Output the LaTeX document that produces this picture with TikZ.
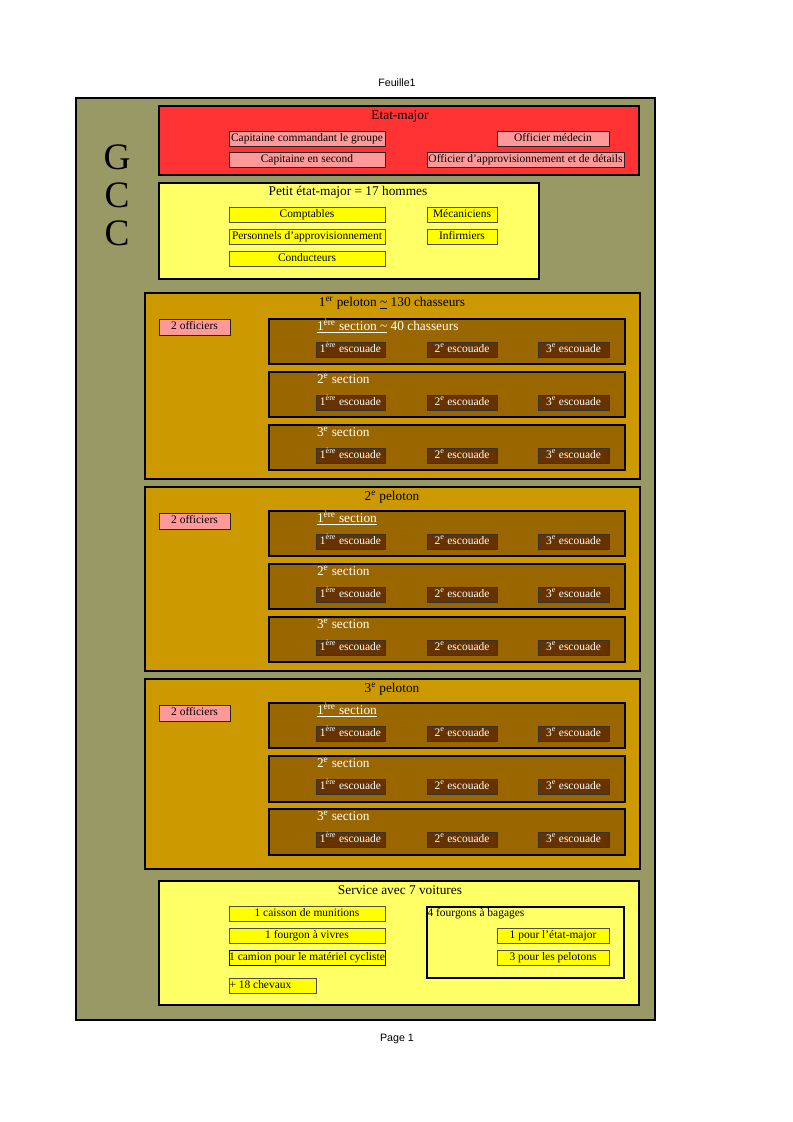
\documentclass[tikz,border=0pt]{standalone}
\usepackage{fontspec}
\setmainfont{Liberation Serif}
\newfontfamily\sansf{Liberation Sans}
\usetikzlibrary{fit}
\definecolor{olivebg}{HTML}{999966}
\definecolor{redbg}{HTML}{FF3333}
\definecolor{pinkbox}{HTML}{FF9999}
\definecolor{lightyel}{HTML}{FFFF66}
\definecolor{yelbox}{HTML}{FFFF00}
\definecolor{pelbg}{HTML}{CC9900}
\definecolor{secbg}{HTML}{996600}
\definecolor{escbg}{HTML}{663300}
\tikzset{
 every node/.style={inner sep=0pt, outer sep=0pt},
 sml/.style={font=\fontsize{8.6}{10}\selectfont, text height=6pt, text depth=1.8pt},
 ttl/.style={font=\fontsize{10}{12}\selectfont, text height=7pt, text depth=2pt},
 bigb/.style={draw=black, line width=1.3pt},
 pinkb/.style={draw=black!85, line width=0.7pt, fill=pinkbox, sml, text=black},
 yelb/.style={draw=black!70, line width=0.7pt, fill=yelbox, sml, text=black},
 escb/.style={draw=black!80, line width=0.7pt, fill=escbg, sml, text=white},
 secb/.style={draw=black, line width=0.9pt, fill=secbg},
 pelb/.style={draw=black, line width=1.3pt, fill=pelbg},
 gcc/.style={font=\fontsize{28}{30}\selectfont},
 pagetxt/.style={font=\sansf\fontsize{8}{9}\selectfont},
}
% box with centred text: {style}{name}{x1}{y1}{x2}{y2}{text}
\newcommand\mybx[7]{\node[#1, minimum width={((#5)-(#3))*0.75pt},
  minimum height={((#6)-(#4))*0.75pt}] (#2) at ({((#3)+(#5))/2},{((#4)+(#6))/2}) {#7};}
\begin{document}
\begin{tikzpicture}[x=0.75pt,y=-0.75pt]
\useasboundingbox[fill=white] (0,0) rectangle (793,1122);
\node[pagetxt] (feuille) at (397,83) {Feuille1};
\node[pagetxt] (page) at (397,1039) {Page 1};
\node[draw=black, line width=1.6pt, fill=olivebg, fit={(76,98)(655,1020)}] (outer) {};
% GCC
\node[gcc] (g1) at (117,157) {G};
\node[gcc] (c1) at (117,195) {C};
\node[gcc] (c2) at (117,233) {C};
% Etat-major
\node[bigb, fill=redbg, fit={(159,106)(639,175)}] (em) {};
\node[ttl] (emt) at (400,116) {Etat-major};
\mybx{pinkb}{cap1}{229}{131}{385}{146}{Capitaine commandant le groupe}
\mybx{pinkb}{med}{497}{131}{609}{146}{Officier médecin}
\mybx{pinkb}{cap2}{229}{152}{385}{167}{Capitaine en second}
\mybx{pinkb}{appro}{427}{152}{624}{167}{Officier d’approvisionnement et de détails}
% Petit etat-major
\node[bigb, fill=lightyel, fit={(159,183)(539,279)}] (pem) {};
\node[ttl] (pemt) at (348,192) {Petit état-major = 17 hommes};
\mybx{yelb}{compt}{229}{207}{385}{222}{Comptables}
\mybx{yelb}{meca}{427}{207}{497}{222}{Mécaniciens}
\mybx{yelb}{pers}{229}{229}{385}{244}{Personnels d’approvisionnement}
\mybx{yelb}{infi}{427}{229}{497}{244}{Infirmiers}
\mybx{yelb}{cond}{229}{251}{385}{266}{Conducteurs}
% Pelotons
\foreach \p/\top/\bot/\txt in {
  1/293/479/{1\textsuperscript{er} peloton \underline{\textasciitilde} 130 chasseurs},
  2/487/671/{2\textsuperscript{e} peloton},
  3/679/869/{3\textsuperscript{e} peloton}}{
  \node[pelb, fit={(145,\top)(640,\bot)}] (pel\p) {};
  \node[ttl] (pel\p t) at (392,\top+10) {\txt};
  \mybx{pinkb}{pel\p o}{159}{\top+26}{230}{\top+42}{2 officiers}
}
% Sections
\foreach \p/\s/\st/\h in {1/1/319/45,1/2/372/45,1/3/425/45,
                          2/1/511/45,2/2/564/45,2/3/617/45,
                          3/1/703/45,3/2/756/46,3/3/809/46}{
  \node[secb, fit={(269,\st)(625,\st+\h)}] (pel\p s\s) {};
  \ifnum\s=1
    \ifnum\p=1
      \node[ttl, text=white, anchor=west] (pel\p s\s t) at (317,\st+8)
        {\underline{1\textsuperscript{ère} section \textasciitilde} 40 chasseurs};
    \else
      \node[ttl, text=white, anchor=west] (pel\p s\s t) at (317,\st+8)
        {\underline{1\textsuperscript{ère} section}};
    \fi
  \else
    \node[ttl, text=white, anchor=west] (pel\p s\s t) at (317,\st+8)
      {\s\textsuperscript{e} section};
  \fi
  \mybx{escb}{pel\p s\s e1}{316}{\st+23}{385}{\st+38}{1\textsuperscript{ère} escouade}
  \mybx{escb}{pel\p s\s e2}{427}{\st+23}{497}{\st+38}{2\textsuperscript{e} escouade}
  \mybx{escb}{pel\p s\s e3}{538}{\st+23}{609}{\st+38}{3\textsuperscript{e} escouade}
}
% Service
\node[bigb, fill=lightyel, fit={(159,881)(639,1005)}] (serv) {};
\node[ttl] (servt) at (400,891) {Service avec 7 voitures};
\mybx{yelb}{caisson}{229}{906}{385}{921}{1 caisson de munitions}
\mybx{yelb}{vivres}{229}{928}{385}{943}{1 fourgon à vivres}
\mybx{yelb, draw=black}{camion}{229}{950}{385}{965}{1 camion pour le matériel cycliste}
\mybx{yelb}{chev}{229}{978}{316}{993}{}
\node[sml, anchor=west] (chevt) at (229.5,985.5) {+ 18 chevaux};
\node[draw=black, line width=0.8pt, fill=lightyel, fit={(427,907)(624,978)}] (fourg) {};
\node[sml, anchor=north west] (fourgt) at (427.5,908) {4 fourgons à bagages};
\mybx{yelb}{f1}{497}{928}{609}{943}{1 pour l’état-major}
\mybx{yelb}{f2}{497}{950}{609}{965}{3 pour les pelotons}
\end{tikzpicture}
\end{document}
